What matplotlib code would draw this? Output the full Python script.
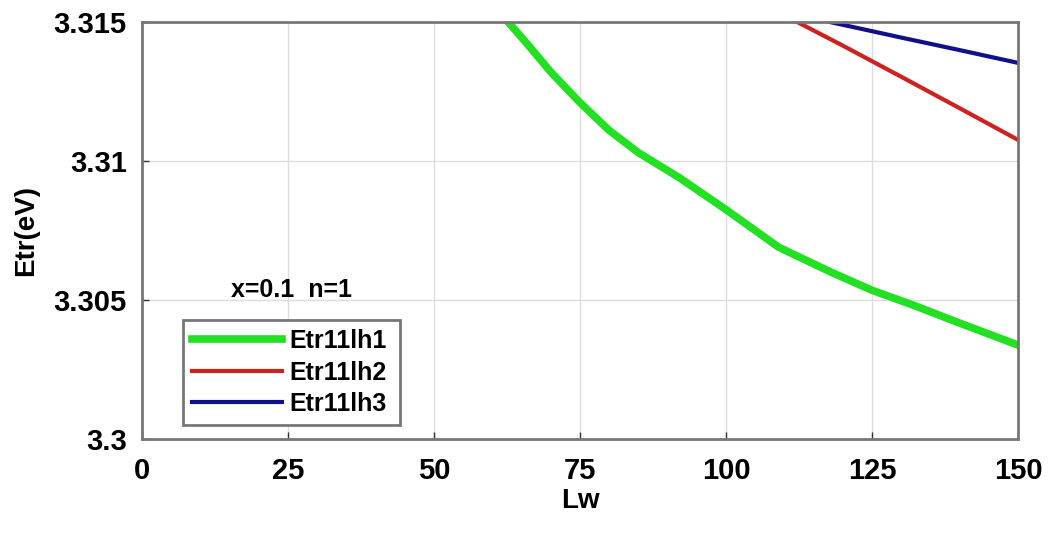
import matplotlib
matplotlib.use("Agg")
import matplotlib.pyplot as plt

plt.rcParams['font.family'] = ['Liberation Sans', 'DejaVu Sans']
plt.rcParams['font.weight'] = 'bold'

# Data
lw_green = [62.7, 66.0, 70.0, 75.0, 80.0, 85.0, 92.0, 100.0, 109.0, 118.0, 125.0, 132.0, 140.0, 150.0]
etr_green = [3.3150, 3.3142, 3.3132, 3.3121, 3.3111, 3.3103, 3.3094, 3.30825, 3.3069, 3.3060, 3.30535, 3.30482, 3.30417, 3.30338]
lw_red = [112.2, 120.0, 130.0, 140.0, 150.0]
etr_red = [3.3150, 3.31415, 3.31303, 3.31190, 3.31076]
lw_blue = [117.8, 130.0, 140.0, 150.0]
etr_blue = [3.3150, 3.31444, 3.31399, 3.31353]
labels = ["Etr11lh1", "Etr11lh2", "Etr11lh3"]
xticks = [0, 25, 50, 75, 100, 125, 150]
yticks = [3.3, 3.305, 3.31, 3.315]
ytick_labels = ["3.3", "3.305", "3.31", "3.315"]

fig = plt.figure(figsize=(10.49, 5.33), dpi=100)
ax = fig.add_axes([142/1049, 1-439/533, 876/1049, 417/533])

ax.plot(lw_green, etr_green, color='#22e022', lw=5.5, label=labels[0])
ax.plot(lw_red, etr_red, color='#d02020', lw=3, label=labels[1])
ax.plot(lw_blue, etr_blue, color='#10108a', lw=3, label=labels[2])

ax.set_xlim(0, 150)
ax.set_ylim(3.3, 3.315)
ax.set_xticks(xticks)
ax.set_xticklabels([str(t) for t in xticks])
ax.set_yticks(yticks)
ax.set_yticklabels(ytick_labels)
ax.grid(True, color='#dddddd', lw=1)
ax.set_axisbelow(True)
for s in ax.spines.values():
    s.set_color('#777777')
    s.set_linewidth(2)
ax.tick_params(direction='in', length=5, width=1, color='#333333', labelsize=21, pad=11)
ax.tick_params(axis='x', pad=13)

ax.set_xlabel("Lw", fontsize=20, fontweight='bold', labelpad=2)
ax.set_ylabel("Etr(eV)", fontsize=20, fontweight='bold', labelpad=10)

leg = ax.legend(loc='lower left', bbox_to_anchor=(0.047, 0.034, 0.248, 0.278), mode='expand',
                borderaxespad=0, fontsize=18, frameon=True, fancybox=False,
                handlelength=3.6, handletextpad=0.3, labelspacing=0.3, borderpad=0.35)
leg.get_frame().set_edgecolor('#777777')
leg.get_frame().set_linewidth(2)
leg.get_frame().set_alpha(1)

ax.text(0.171, 0.357, "x=0.1  n=1", transform=ax.transAxes, ha='center', va='center',
        fontsize=18, fontweight='bold')

fig.savefig("out.png", dpi=100)
